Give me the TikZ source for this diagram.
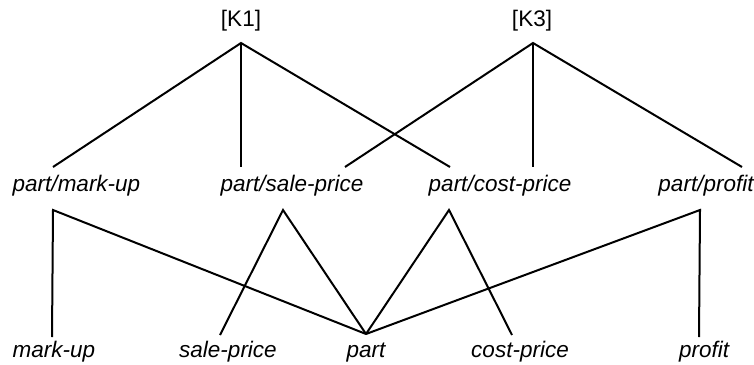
\documentclass[tikz,border=0pt]{standalone}
\usepackage{fontspec}
\setmainfont{Liberation Sans}
\begin{document}
\begin{tikzpicture}[x=1pt,y=-1pt,
  lbl/.style={font=\fontsize{22.5}{27}\selectfont\itshape, anchor=base, inner sep=0pt},
  hdr/.style={font=\fontsize{22.5}{27}\selectfont, anchor=base, inner sep=0pt},
  edge/.style={line width=2pt}]
\useasboundingbox (0,0) rectangle (754,364);
% top labels
\node[hdr] (k1) at (241,27) {[K1]};
\node[hdr] (k3) at (532,27) {[K3]};
\coordinate (k1a) at (241,43);
\coordinate (k3a) at (533,43);
% middle labels
\node[lbl] (pmu) at (76.5,191) {part/mark-up};
\node[lbl] (psp) at (292,191) {part/sale-price};
\node[lbl] (pcp) at (500,191) {part/cost-price};
\node[lbl] (ppr) at (706,191) {part/profit};
\coordinate (pmut) at (53,167);
\coordinate (pmub) at (53,210);
\coordinate (pspt1) at (241,167);
\coordinate (pspt2) at (345,167);
\coordinate (pspb) at (283,210);
\coordinate (pcpt1) at (450,167);
\coordinate (pcpt2) at (533,167);
\coordinate (pcpb) at (449,210);
\coordinate (pprt) at (742,167);
\coordinate (pprb) at (700,210);
% bottom labels
\node[lbl] (mu) at (54,357) {mark-up};
\node[lbl] (sp) at (228,357) {sale-price};
\node[lbl] (pt) at (366,357) {part};
\node[lbl] (cp) at (520,357) {cost-price};
\node[lbl] (pr) at (704,357) {profit};
\coordinate (mut) at (52,337);
\coordinate (spt) at (220,335);
\coordinate (ptt) at (366,334);
\coordinate (cpt) at (512,335);
\coordinate (prt) at (699,337);
% upper connectors
\draw[edge] (pmut) -- (k1a) -- (pcpt1);
\draw[edge] (k1a) -- (pspt1);
\draw[edge] (pspt2) -- (k3a) -- (pprt);
\draw[edge] (k3a) -- (pcpt2);
% lower connectors
\draw[edge] (mut) -- (pmub) -- (ptt);
\draw[edge] (spt) -- (pspb) -- (ptt);
\draw[edge] (ptt) -- (pcpb) -- (cpt);
\draw[edge] (ptt) -- (pprb) -- (prt);
\end{tikzpicture}
\end{document}
